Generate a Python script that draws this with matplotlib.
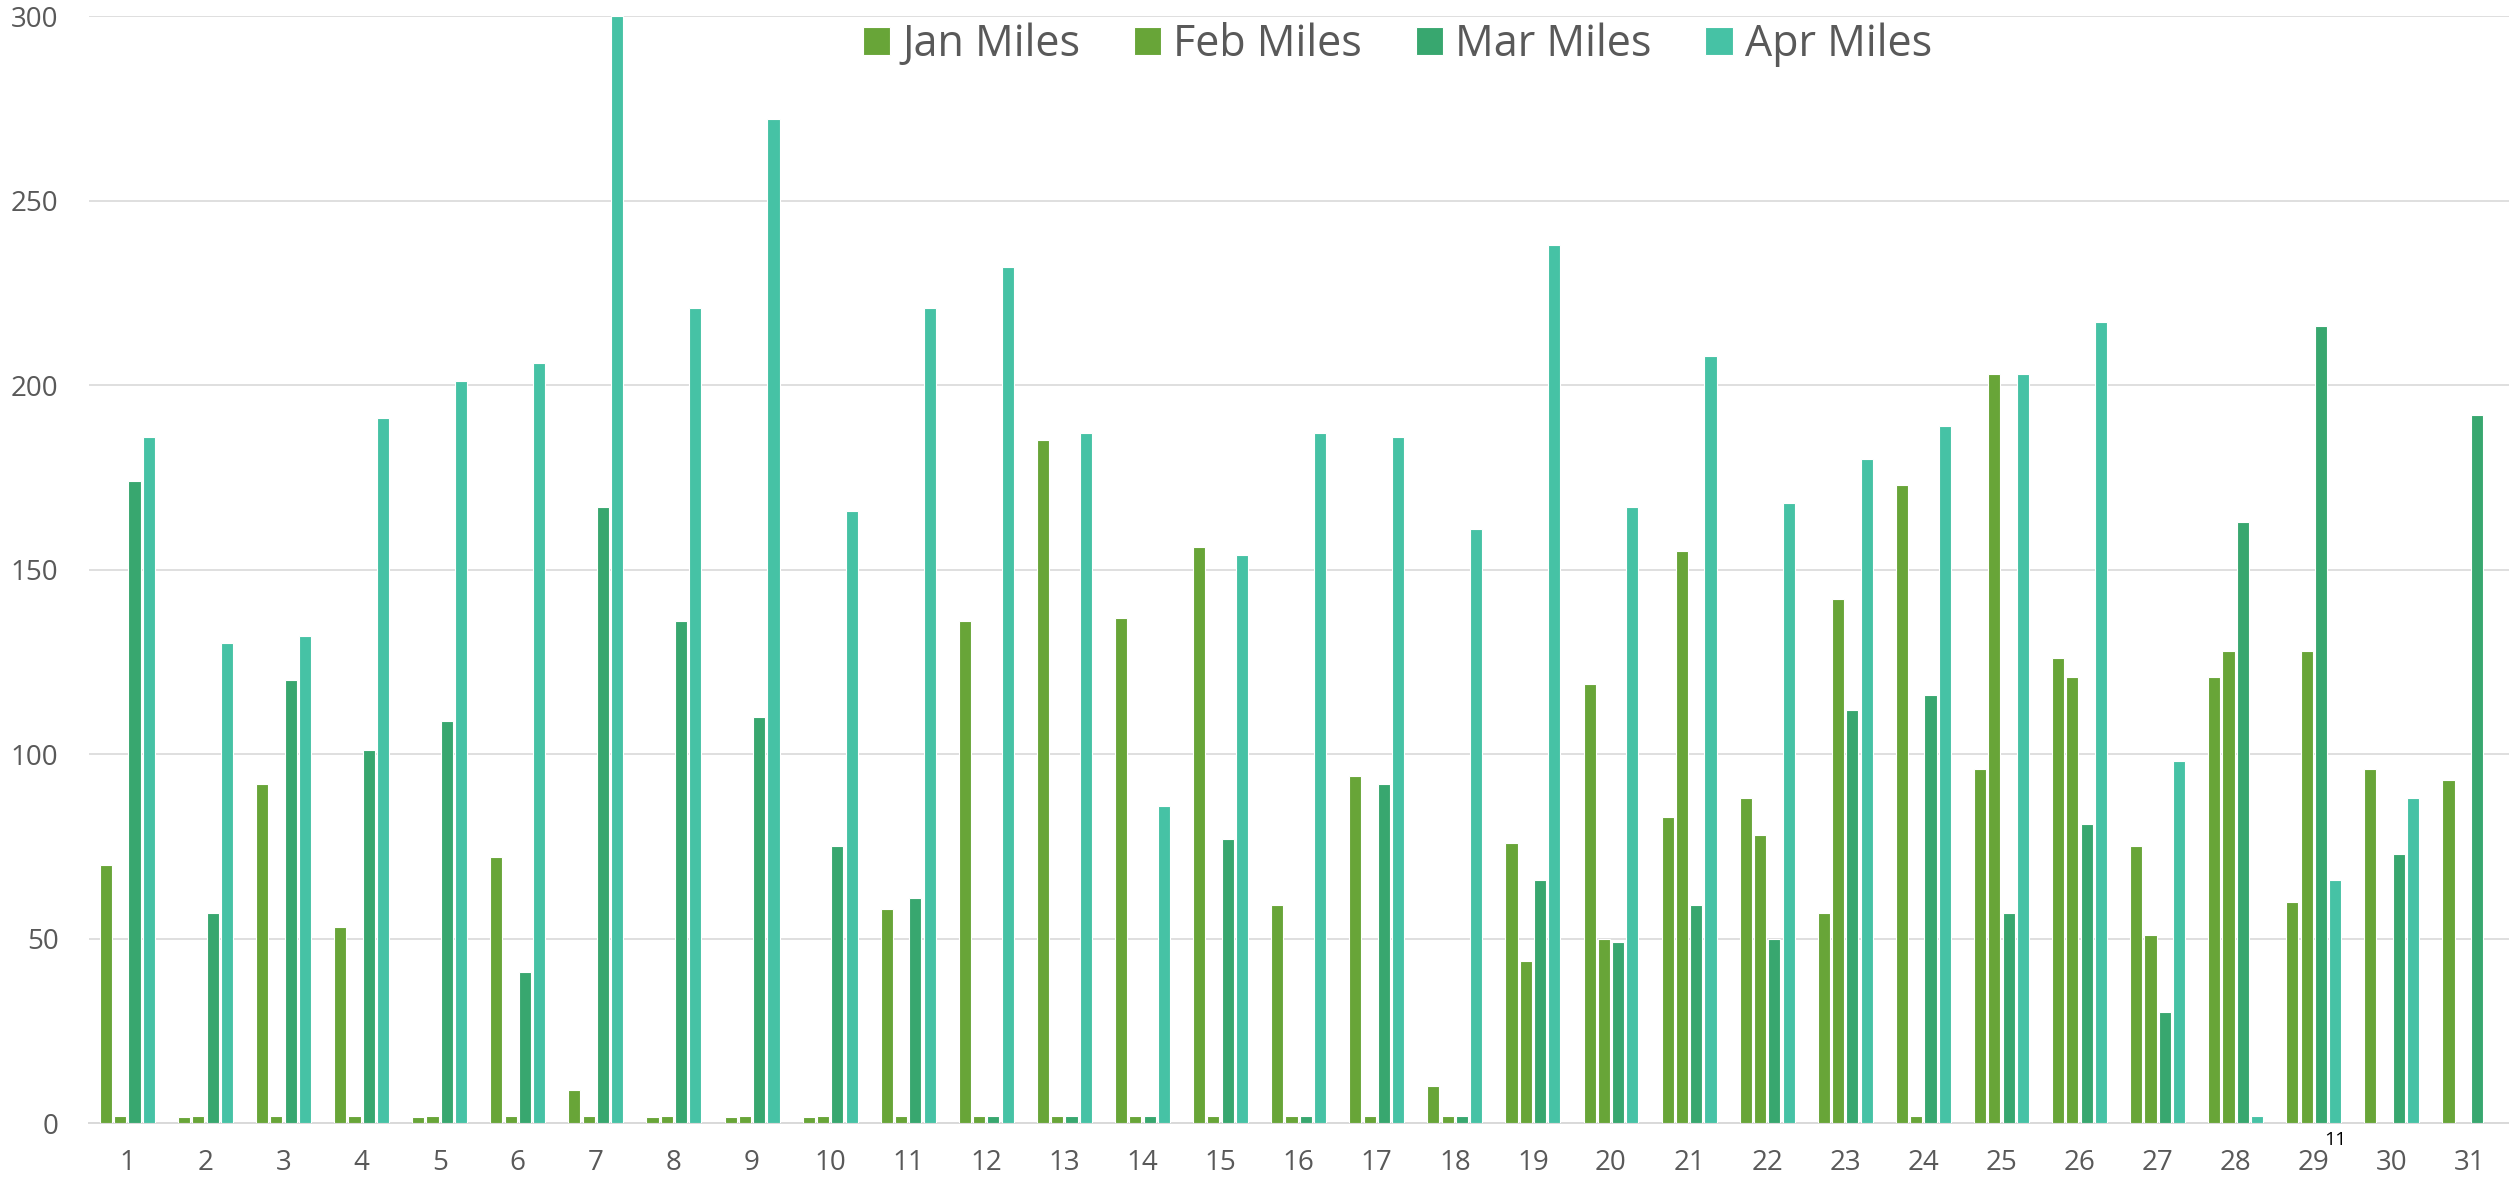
import numpy as np
import matplotlib
matplotlib.use("Agg")
import matplotlib.pyplot as plt

plt.rcParams['font.family'] = ['Open Sans', 'DejaVu Sans']

days = list(range(1, 32))
jan_miles = [70, 1.5, 92, 53, 1.5, 72, 9, 1.5, 1.5, 1.5, 58, 136, 185, 137, 156, 59,
             94, 10, 76, 119, 83, 88, 57, 173, 96, 126, 75, 121, 60, 96, 93]
feb_miles = [2, 2, 2, 2, 2, 2, 2, 2, 2, 2, 2, 2, 2, 2, 2, 2,
             2, 2, 44, 50, 155, 78, 142, 2, 203, 121, 51, 128, 128, None, None]
mar_miles = [174, 57, 120, 101, 109, 41, 167, 136, 110, 75, 61, 2, 2, 2, 77, 2,
             92, 2, 66, 49, 59, 50, 112, 116, 57, 81, 30, 163, 216, 73, 192]
apr_miles = [186, 130, 132, 191, 201, 206, 300, 221, 272, 166, 221, 232, 187, 86, 154, 187,
             186, 161, 238, 167, 208, 168, 180, 189, 203, 217, 98, 2, 66, 88, None]
series_names = ['Jan Miles', 'Feb Miles', 'Mar Miles', 'Apr Miles']
colors = ['#68A538', '#68A538', '#38A76F', '#46C2A5']

fig = plt.figure(figsize=(25.09, 11.8), dpi=100)
ax = fig.add_axes([0.0355, 0.0483, 0.9645, 0.938])

x = np.array(days, dtype=float)
step = 0.183
width = 0.155
all_series = [jan_miles, feb_miles, mar_miles, apr_miles]
for i, (vals, name, c) in enumerate(zip(all_series, series_names, colors)):
    v = np.array([np.nan if a is None else a for a in vals], dtype=float)
    ax.bar(x + (i - 1.5) * step, v, width=width, color=c, label=name,
           edgecolor='#FFFFFF', linewidth=0.8, zorder=3)

ax.set_xlim(0.51, 31.5)
ax.set_ylim(0, 300)
ax.set_yticks(range(0, 301, 50))
ax.set_xticks(days)
ax.set_xticklabels([str(d) for d in days])

ax.grid(axis='y', color='#D9D9D9', linewidth=1.2, zorder=0)
ax.set_axisbelow(True)
for s in ['top', 'right', 'left']:
    ax.spines[s].set_visible(False)
ax.spines['bottom'].set_color('#D9D9D9')
ax.spines['bottom'].set_linewidth(1.4)

ax.tick_params(axis='x', length=0, pad=19, labelsize=20, labelcolor='#595959')
ax.tick_params(axis='y', length=0, pad=22, labelsize=20, labelcolor='#595959')

# stray label under day 29
ax.text(29 + 1.5 * step, -4.6, '11', ha='center', va='center', fontsize=14,
        color='#000000', clip_on=False)

leg = fig.legend(loc='center', bbox_to_anchor=(0.557, 0.962), ncol=4, frameon=False,
                 fontsize=31, handlelength=0.63, handleheight=0.63, handletextpad=0.28,
                 columnspacing=1.25)
for t in leg.get_texts():
    t.set_color('#595959')

fig.savefig('out.png', dpi=100)
